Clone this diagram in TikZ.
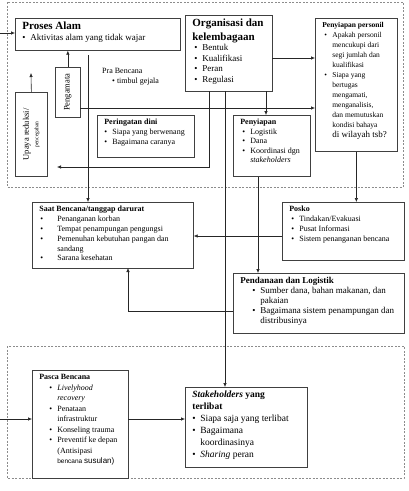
\documentclass[tikz,border=0pt]{standalone}
\usepackage{fontspec}
\setmainfont{Liberation Serif}
\newfontfamily\arialfont{Liberation Sans}
\usepackage{graphicx}
\usetikzlibrary{arrows.meta}
\newlength\bw
\setlength\bw{8pt}
\newcommand\bl[2][0pt]{\par\noindent\hangindent=\dimexpr#1+\bw\relax\hangafter=1\hspace*{#1}\makebox[\bw][l]{\textbullet}#2}
\newcommand\cell[3]{\parbox[c][\dimexpr#2pt-8pt\relax][t]{\dimexpr#1pt-14pt\relax}{\raggedright#3}}
\tikzset{
  box/.style={draw=black!75, line width=0.7pt, inner xsep=7pt, inner ysep=4pt, anchor=north west},
  arr/.style={-{Latex[length=4pt,width=3.5pt]}, line width=0.6pt, draw=black!85},
  frame/.style={dashed, dash pattern=on 2pt off 1.5pt, draw=black!45, line width=0.7pt}
}

\begin{document}
\begin{tikzpicture}[x=1pt, y=-1pt]
		%%%%% START %%%%%
		\useasboundingbox (0,0) rectangle (408,491);
		
		\draw[frame] (7,2) rectangle (403,187);
		\draw[frame] (7,346) rectangle (404,478);
		
		% pra bencana
		\node[box] (alam) at (15,18) {\cell{165}{32}{{\fontsize{11}{13}\selectfont\bfseries Proses Alam\par}\fontsize{9}{11}\selectfont
			\bl{Aktivitas alam yang tidak wajar}}};
		\node[box] (org) at (185,15) {\cell{87}{76}{{\fontsize{11}{13.5}\selectfont\bfseries Organisasi dan\newline kelembagaan\par}\fontsize{9}{10.5}\selectfont
			\bl[2pt]{Bentuk}\bl[2pt]{Kualifikasi}\bl[2pt]{Peran}\bl[2pt]{Regulasi}}};
		\node[box] (personil) at (315,18) {\cell{82}{133}{\fontsize{7.5}{10}\selectfont{\bfseries Penyiapan personil\par}
			\bl[2pt]{Apakah personil\newline mencukupi dari\newline segi jumlah dan\newline kualifikasi}
			\bl[2pt]{Siapa yang\newline bertugas\newline mengamati,\newline menganalisis,\newline dan memutuskan\newline kondisi bahaya\newline {\fontsize{9}{10}\selectfont di wilayah tsb?}}}};
		\node[box, inner sep=0pt, minimum width=25pt, minimum height=50pt] (amat) at (55,67) {\rotatebox{90}{\fontsize{8.5}{10}\selectfont Pengamata}};
		\node[box, inner sep=0pt, minimum width=32pt, minimum height=84pt] (upaya) at (15,92) {\rotatebox{90}{\parbox{62pt}{\centering\fontsize{8.5}{9.5}\selectfont Upaya reduksi/\\{\fontsize{5.5}{7}\selectfont pencegahan}}}};
		\node[anchor=west, inner sep=0pt, font=\fontsize{8}{10}\selectfont] (pra) at (102,71) {Pra Bencana};
		\node[anchor=west, inner sep=0pt, font=\fontsize{8}{10}\selectfont] (gejala) at (112,82) {\textbullet~timbul gejala};
		\node[box] (dini) at (97,115) {\cell{97}{42}{\fontsize{8}{10}\selectfont{\bfseries Peringatan dini\par}
			\bl{Siapa yang berwenang}\bl{Bagaimana caranya}}};
		\node[box] (siap) at (233,115) {\cell{77}{61}{\fontsize{8}{9.5}\selectfont{\bfseries Penyiapan\par}
			\bl[2pt]{Logistik}\bl[2pt]{Dana}\bl[2pt]{Koordinasi dgn\newline \textit{stakeholders}}}};
		
		% saat bencana
		\node[box] (saat) at (32,202) {\cell{161}{66}{\fontsize{8}{9.8}\selectfont{\bfseries Saat Bencana/tanggap darurat\par}\setlength\bw{17pt}
			\bl[1pt]{Penanganan korban}\bl[1pt]{Tempat penampungan pengungsi}\bl[1pt]{Pemenuhan kebutuhan pangan dan\newline sandang}\bl[1pt]{Sarana kesehatan}}};
		\node[box] (posko) at (282,202) {\cell{122}{58}{\fontsize{8}{10}\selectfont{\bfseries Posko\par}
			\bl[2pt]{Tindakan/Evakuasi}\bl[2pt]{Pusat Informasi}\bl[2pt]{Sistem penanganan bencana}}};
		\node[box] (dana) at (233,273) {\cell{171}{60}{\fontsize{9}{10}\selectfont{\bfseries Pendanaan dan Logistik\par}
			\bl[12pt]{Sumber dana, bahan makanan, dan\newline pakaian}\bl[12pt]{Bagaimana sistem penampungan dan\newline distribusinya}}};
		
		% pasca bencana
		\node[box] (pasca) at (32,370) {\cell{96}{108}{\fontsize{8}{10.5}\selectfont{\bfseries Pasca Bencana\par}
			\bl[10pt]{\textit{Livelyhood\newline recovery}}\bl[10pt]{Penataan\newline infrastruktur}\bl[10pt]{Konseling trauma}
			\bl[10pt]{Preventif ke depan\newline (Antisipasi\newline {\arialfont\fontsize{6.5}{10.5}\selectfont bencana }{\arialfont susulan)}}}};
		\node[box] (stake) at (185,387) {\cell{122}{80}{\fontsize{9.5}{12}\selectfont{\bfseries\textit{Stakeholders} yang\newline terlibat\par}
			\bl{Siapa saja yang terlibat}\bl{Bagaimana\newline koordinasinya}\bl{\textit{Sharing} peran}}};
		
		% connectors
		\coordinate (inA) at (0,33);
		\coordinate (inB) at (0,419);
		\coordinate (upT) at (31,73);
		\coordinate (upR) at (57,167);
		\coordinate (a1) at (80,108);
		\coordinate (a2) at (88,55);
		\coordinate (o1) at (272,58);
		\coordinate (o2) at (209,91);
		\coordinate (o3) at (225,91);
		\coordinate (o4) at (266,91);
		\coordinate (s1) at (258,177);
		\coordinate (k1) at (282,236);
		\coordinate (d1) at (233,311);
		\coordinate (sb) at (128,268);
		\coordinate (p1) at (128,419);
		
		\draw[arr] (inA) -- (inA -| alam.west);
		\draw[arr] (amat) -- (amat |- alam.south);
		\draw[arr] (upaya.north) -- (upT);
		\draw[arr] (a1) -- (a1 -| personil.west);
		\draw[arr] (o1) -- (o1 -| personil.west);
		\draw[arr] (o2) |- (upR);
		\draw[arr] (o3) -- (o3 |- stake.north);
		\draw[arr] (o4) -- (o4 |- siap.north);
		\draw[arr] (a2) -- (a2 |- saat.north);
		\draw[arr] (s1) -- (s1 |- dana.north);
		\draw[arr] (personil.south) -- (personil.south |- posko.north);
		\draw[arr] (k1) -- (k1 -| saat.east);
		\draw[arr] (d1) -| (sb);
		\draw[arr] (inB) -- (inB -| pasca.west);
		\draw[arr] (p1) -- (p1 -| stake.west);
		
		%%%%% END %%%%%
\end{tikzpicture}
\end{document}
